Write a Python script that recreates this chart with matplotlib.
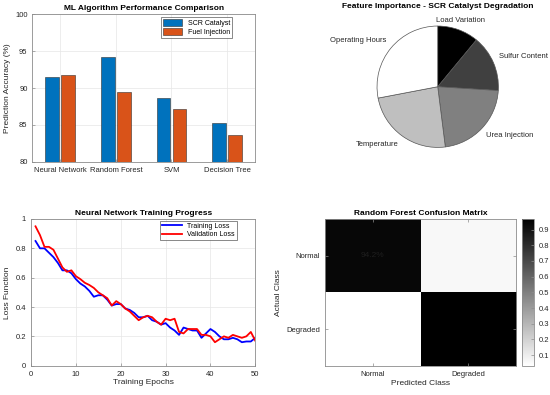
import numpy as np
import matplotlib
matplotlib.use('Agg')
import matplotlib.pyplot as plt

plt.rcParams['font.family'] = ['Liberation Sans', 'DejaVu Sans']
plt.rcParams['font.size'] = 5.5

# bar chart data
algorithms = ['Neural Network', 'Random Forest', 'SVM', 'Decision Tree']
scr_acc = [91.5, 94.2, 88.7, 85.3]
fuel_acc = [91.8, 89.4, 87.2, 83.6]

# pie data
features = ['Load Variation', 'Sulfur Content', 'Urea Injection', 'Temperature', 'Operating Hours']
importance = [0.11, 0.15, 0.22, 0.24, 0.28]

# training curves
train_loss = [0.85, 0.80, 0.80, 0.77, 0.74, 0.70, 0.65, 0.65, 0.63, 0.59,
              0.56, 0.54, 0.51, 0.47, 0.48, 0.48, 0.45, 0.41, 0.42, 0.42,
              0.39, 0.38, 0.36, 0.33, 0.33, 0.34, 0.31, 0.30, 0.28, 0.29,
              0.26, 0.24, 0.21, 0.26, 0.25, 0.24, 0.24, 0.19, 0.22, 0.25,
              0.23, 0.20, 0.18, 0.18, 0.19, 0.18, 0.16, 0.165, 0.165, 0.19]
val_loss = [0.95, 0.89, 0.81, 0.81, 0.79, 0.73, 0.67, 0.64, 0.65, 0.61,
            0.59, 0.565, 0.55, 0.53, 0.50, 0.48, 0.46, 0.41, 0.44, 0.42,
            0.39, 0.37, 0.34, 0.31, 0.33, 0.34, 0.33, 0.30, 0.28, 0.32,
            0.31, 0.32, 0.23, 0.22, 0.25, 0.25, 0.25, 0.21, 0.21, 0.20,
            0.16, 0.18, 0.20, 0.19, 0.21, 0.20, 0.19, 0.20, 0.23, 0.17]
epochs = np.arange(1, len(train_loss) + 1)

# confusion matrix
classes = ['Normal', 'Degraded']
conf_mat = np.array([[0.942, 0.058],
                     [0.032, 0.968]])

txt = '#262626'
spine = '#8c8c8c'
grid_c = '#e6e6e6'


def style(ax):
    for s in ax.spines.values():
        s.set_color(spine)
        s.set_linewidth(0.6)
    ax.tick_params(direction='in', length=2, width=0.5, colors=spine,
                   labelcolor=txt, labelsize=5.5)


fig = plt.figure(figsize=(5.5, 3.95), dpi=100)

# ML performance bars
ax1 = fig.add_axes([0.059, 0.5906, 0.4045, 0.3732])
x = np.arange(1, len(algorithms) + 1)
ax1.bar(x - 0.143, scr_acc, 0.245, color='#0072BD', edgecolor='#303030',
        linewidth=0.4, label='SCR Catalyst', zorder=3)
ax1.bar(x + 0.143, fuel_acc, 0.245, color='#D95319', edgecolor='#303030',
        linewidth=0.4, label='Fuel Injection', zorder=3)
ax1.set_xlim(0.5, 4.5)
ax1.set_ylim(80, 100)
ax1.set_yticks([80, 85, 90, 95, 100])
ax1.set_xticks(x)
ax1.set_xticklabels(algorithms)
ax1.set_ylabel('Prediction Accuracy (%)', color=txt, fontsize=6, labelpad=3)
ax1.set_title('ML Algorithm Performance Comparison', fontsize=6,
              fontweight='bold', pad=3)
ax1.grid(True, color=grid_c, linewidth=0.5, zorder=0)
style(ax1)
leg = ax1.legend(loc='upper right', bbox_to_anchor=(0.898, 0.98), fontsize=5,
                 frameon=True, fancybox=False, edgecolor='#303030',
                 handlelength=2.8, handleheight=1.1, borderpad=0.3,
                 labelspacing=0.2, borderaxespad=0)
leg.get_frame().set_linewidth(0.5)

# feature importance pie
ax2 = fig.add_axes([0.6855, 0.6268, 0.2207, 0.3073])
cols = [str(v) for v in np.linspace(0, 1, len(importance))]
wedges, labels = ax2.pie(importance, labels=features, colors=cols,
                         startangle=90, counterclock=False, labeldistance=1.1,
                         wedgeprops=dict(edgecolor='#555555', linewidth=0.5),
                         textprops=dict(fontsize=5.5, color=txt))
# matlab-like label alignment
for t in labels:
    lx, ly = t.get_position()
    if abs(lx) < 0.5:
        t.set_ha('center')
    else:
        t.set_ha('left' if lx > 0 else 'right')
    t.set_va('bottom' if ly > 0 else 'top')
ax2.set_xlim(-1, 1)
ax2.set_ylim(-1, 1)
ax2.set_aspect('equal')
fig.text(0.795, 0.983, 'Feature Importance - SCR Catalyst Degradation',
         ha='center', va='center', fontsize=6, fontweight='bold')

# training progress
ax3 = fig.add_axes([0.0564, 0.0742, 0.4078, 0.3714])
ax3.plot(epochs, train_loss, color='blue', linewidth=1.3, label='Training Loss')
ax3.plot(epochs, val_loss, color='red', linewidth=1.3, label='Validation Loss')
ax3.set_xlim(0, 50)
ax3.set_ylim(0, 1)
ax3.set_xticks(np.arange(0, 51, 10))
ax3.set_yticks(np.arange(0, 1.01, 0.2))
ax3.set_yticklabels(['0', '0.2', '0.4', '0.6', '0.8', '1'])
ax3.set_xlabel('Training Epochs', color=txt, fontsize=6, labelpad=1)
ax3.set_ylabel('Loss Function', color=txt, fontsize=6, labelpad=3)
ax3.set_title('Neural Network Training Progress', fontsize=6,
              fontweight='bold', pad=3)
ax3.grid(True, color=grid_c, linewidth=0.5)
style(ax3)
leg = ax3.legend(loc='upper right', bbox_to_anchor=(0.918, 0.988), fontsize=5,
                 frameon=True, fancybox=False, edgecolor='#303030',
                 handlelength=2.8, borderpad=0.3, labelspacing=0.2,
                 borderaxespad=0)
leg.get_frame().set_linewidth(0.5)

# confusion matrix
ax4 = fig.add_axes([0.5909, 0.0742, 0.3478, 0.3714])
im = ax4.imshow(conf_mat, cmap='gray_r', aspect='auto',
                vmin=conf_mat.min(), vmax=conf_mat.max(),
                extent=[0.5, 2.5, 2.5, 0.5])
ax4.text(1, 1, '%.1f%%' % (conf_mat[0, 0] * 100), ha='center', va='center',
         fontsize=6, color='#1e1e1e')
ax4.set_xticks([1, 2])
ax4.set_xticklabels(classes)
ax4.set_yticks([1, 2])
ax4.set_yticklabels(classes)
ax4.set_xlabel('Predicted Class', color=txt, fontsize=6, labelpad=2)
ax4.set_ylabel('Actual Class', color=txt, fontsize=6, labelpad=3)
ax4.set_title('Random Forest Confusion Matrix', fontsize=6,
              fontweight='bold', pad=3)
style(ax4)
ax4.tick_params(top=True, right=True)

cax = fig.add_axes([0.949, 0.0742, 0.0218, 0.3714])
cb = fig.colorbar(im, cax=cax)
cb.set_ticks(np.arange(0.1, 0.95, 0.1))
cb.outline.set_edgecolor(spine)
cb.outline.set_linewidth(0.6)
cax.tick_params(direction='in', length=2, width=0.5, colors=spine,
                labelcolor=txt, labelsize=5.5)

fig.savefig('out.png', dpi=100)
